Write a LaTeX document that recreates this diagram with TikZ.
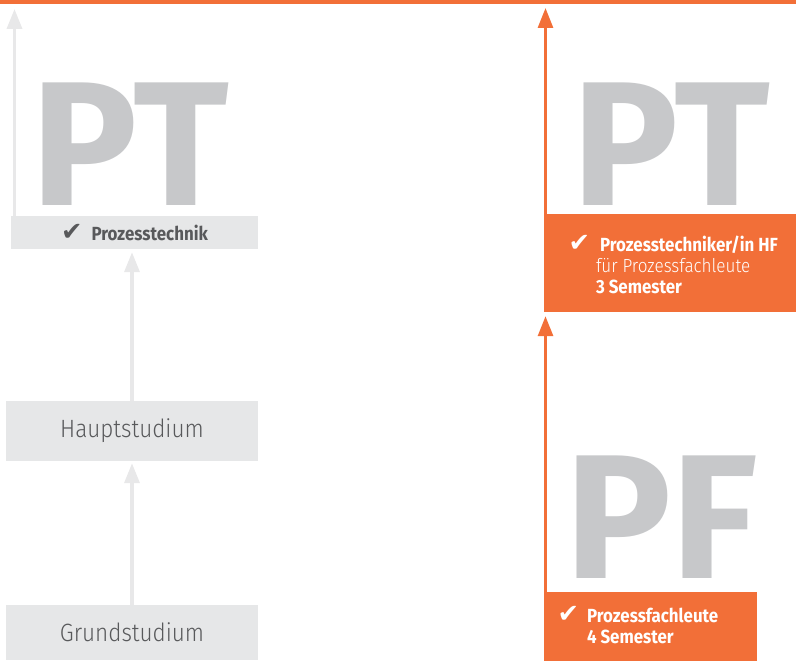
\documentclass[tikz,border=0pt]{standalone}
\usepackage{fontspec}
\setmainfont{Fira Sans}[FakeStretch=0.89]
\newfontfamily\lightfont{Fira Sans Light}[FakeStretch=0.9]
\newfontfamily\bigfont{Fira Sans}
\newfontfamily\symfont{DejaVu Sans Bold}
\usetikzlibrary{arrows.meta,positioning}
\definecolor{PTOrange}{HTML}{F26F38}
\definecolor{PTBoxGray}{HTML}{E6E7E8}
\definecolor{PTArrowGray}{HTML}{E8E8E9}
\definecolor{PTText}{HTML}{58595B}
\definecolor{PTLetter}{HTML}{C7C8CA}
\newcommand{\chk}{\scalebox{1.35}{\symfont\char"2714}}

\begin{document}
\begin{tikzpicture}[x=1bp, y=-1bp,
                    box/.style={rectangle, inner sep=0pt, minimum width=252bp},
                    graybox/.style={box, fill=PTBoxGray, text=PTText},
                    orangebox/.style={box, fill=PTOrange},
                    boxtext/.style={inner sep=0pt, anchor=north west, align=left, text=white,
                                    font=\fontsize{19bp}{21bp}\selectfont},
                    letters/.style={inner sep=0pt, anchor=base, text=PTLetter, text depth=0pt,
                                    font=\bigfont\bfseries\fontsize{177bp}{177bp}\selectfont},
                    grayarrow/.style={draw=PTArrowGray, line width=3.5bp,
                                      -{Triangle[width=15bp,length=20bp]}},
                    orangearrow/.style={draw=PTOrange, line width=3bp,
                                        -{Triangle[width=15bp,length=20bp]}}]
\useasboundingbox (0,0) rectangle (796,661);
\fill[PTOrange] (0,0) rectangle (796,4);

% left column
\node[letters] (ptleft) at (130,205) {PT};
\node[graybox, minimum width=247bp, minimum height=33bp,
      font=\bfseries\fontsize{19bp}{21bp}\selectfont] (technik) at (134.5,232.5)
      {\chk\hspace{9bp}Prozesstechnik};
\node[graybox, minimum height=60bp, font=\lightfont\fontsize{25bp}{28bp}\selectfont]
      (haupt) at (132,431) {Hauptstudium};
\node[graybox, minimum height=55bp, font=\lightfont\fontsize{25bp}{28bp}\selectfont]
      (grund) at (132,632.5) {Grundstudium};
\coordinate (lefttop) at (14.5,9);
\draw[grayarrow] (technik.north west -| lefttop) -- (lefttop);
\draw[grayarrow] (haupt.north) -- ([yshift=-3bp]haupt.north |- technik.south);
\draw[grayarrow] (grund.north) -- ([yshift=-2bp]grund.north |- haupt.south);

% right column
\node[letters] (ptright) at (671,205) {PT};
\node[letters] (pfright) at (661.5,578) {PF};
\node[orangebox, minimum height=98bp] (hf) at (670,263) {};
\node[orangebox, minimum width=213bp, minimum height=69bp] (pf) at (650.5,626.5) {};
\node[boxtext] (hftext) at ([xshift=52bp, yshift=-21bp]hf.north west)
      {\llap{\chk\hspace{6bp}}\hspace{4bp}\textbf{Prozesstechniker/in HF}\\
       {\lightfont für Prozessfachleute}\\
       \textbf{3 Semester}};
\node[boxtext] (pftext) at ([xshift=43bp, yshift=-14bp]pf.north west)
      {\llap{\chk\hspace{8bp}}\textbf{Prozessfachleute}\\
       \textbf{4 Semester}};
\coordinate (righttop) at (545.5,8);
\draw[orangearrow] (hf.north west -| righttop) -- (righttop);
\draw[orangearrow] (pf.north west -| righttop) -- ([yshift=-4bp]hf.south west -| righttop);
\end{tikzpicture}
\end{document}
